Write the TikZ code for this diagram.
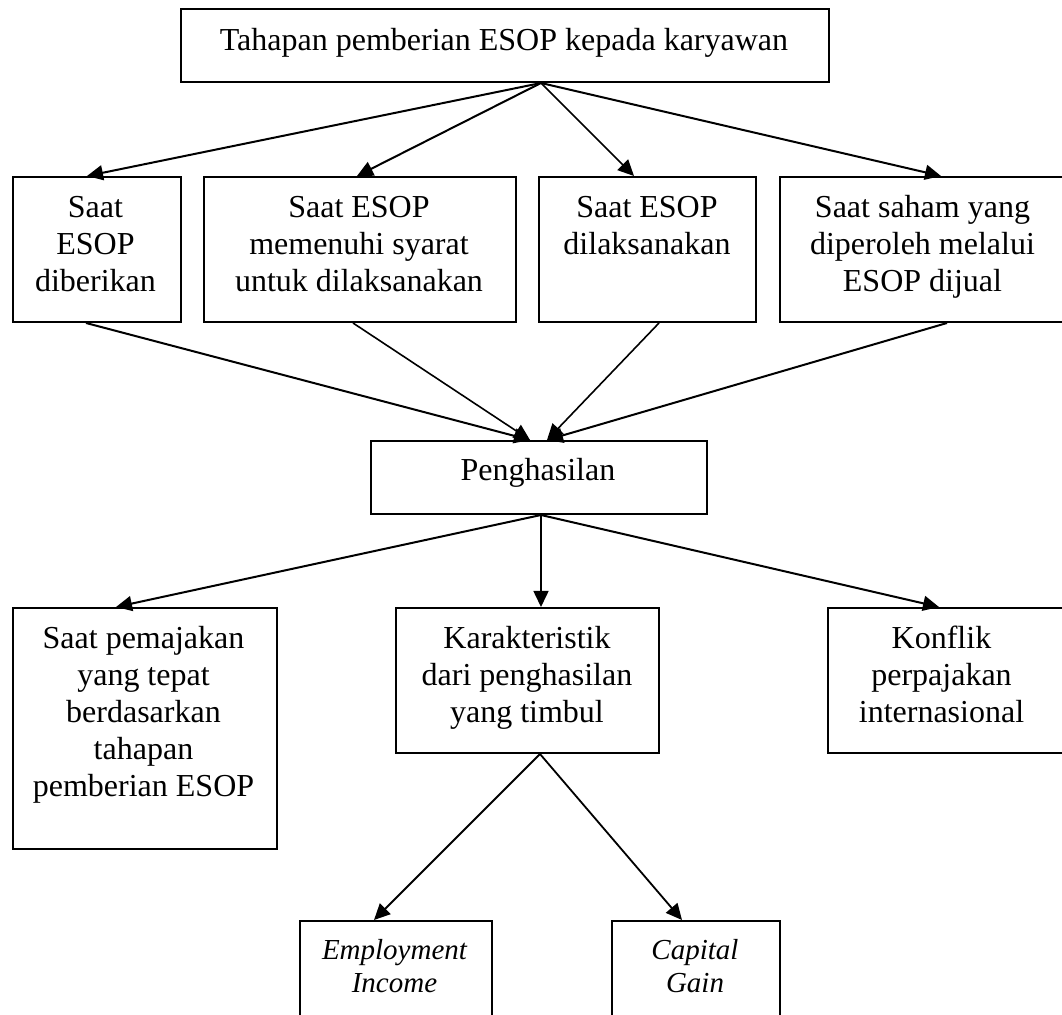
\documentclass[tikz,border=0pt]{standalone}
\usepackage{fontspec}
\setmainfont{Liberation Serif}
\usetikzlibrary{arrows.meta}
\tikzset{
  box/.style={draw, line width=1pt, inner sep=0pt, anchor=north west},
  txt/.style={anchor=north, inner sep=0pt, align=center, font=\fontsize{16pt}{18.5pt}\selectfont},
  itxt/.style={anchor=north, inner sep=0pt, align=center, font=\fontsize{14.5pt}{16.5pt}\selectfont\itshape},
  thick arrow/.style={line width=1pt, -{Triangle[length=8pt,width=7.5pt]}},
  thin arrow/.style={line width=0.8pt, -{Triangle[length=8pt,width=7.5pt]}}
}
\newcommand{\fl}{\rule{0pt}{14pt}}
\begin{document}
\begin{tikzpicture}[x=0.5pt,y=-0.5pt]
\clip (0,0) rectangle (1062,1015);
\fill[white] (0,0) rectangle (1062,1015);
% boxes
\node[box, minimum width=324pt, minimum height=36.5pt] (T) at (180,8) {};
\node[box, minimum width=84pt,  minimum height=72.5pt] (b1) at (11.5,176) {};
\node[box, minimum width=156pt, minimum height=72.5pt] (b2) at (203,176) {};
\node[box, minimum width=108.5pt, minimum height=72.5pt] (b3) at (538,176) {};
\node[box, minimum width=145pt, minimum height=72.5pt] (b4) at (779,176) {};
\node[box, minimum width=168pt, minimum height=36.5pt] (P) at (370,440) {};
\node[box, minimum width=132pt, minimum height=120.5pt] (L) at (11.5,607) {};
\node[box, minimum width=131.5pt, minimum height=72.5pt] (K) at (395,607) {};
\node[box, minimum width=125pt, minimum height=72.5pt] (F) at (827,607) {};
\node[box, minimum width=96pt, minimum height=60pt] (E) at (298.5,920) {};
\node[box, minimum width=84pt, minimum height=60pt] (C) at (611,920) {};
% texts
\node[txt] (Tt) at (504,22) {\fl Tahapan pemberian ESOP kepada karyawan};
\node[txt] (b1t) at (95.5,189) {\fl Saat\\ESOP\\diberikan};
\node[txt] (b2t) at (359,189) {\fl Saat ESOP\\memenuhi syarat\\untuk dilaksanakan};
\node[txt] (b3t) at (647,189) {\fl Saat ESOP\\dilaksanakan};
\node[txt] (b4t) at (922.5,189) {\fl Saat saham yang\\diperoleh melalui\\ESOP dijual};
\node[txt] (Pt) at (538,452) {\fl Penghasilan};
\node[txt] (Lt) at (143.5,620) {\fl Saat pemajakan\\yang tepat\\berdasarkan\\tahapan\\pemberian ESOP};
\node[txt] (Kt) at (527,620) {\fl Karakteristik\\dari penghasilan\\yang timbul};
\node[txt] (Ft) at (941.5,620) {\fl Konflik\\perpajakan\\internasional};
\node[itxt] (Et) at (394.5,931) {\fl Employment\\Income};
\node[itxt] (Ct) at (695,931) {\fl Capital\\Gain};
% connectors: top to row 2
\draw[thick arrow] ([xshift=18pt]T.south) -- ([xshift=-4.75pt]b1.north);
\draw[thick arrow] ([xshift=18pt]T.south) -- ([xshift=-1.5pt]b2.north);
\draw[thin arrow] ([xshift=18pt]T.south) -- ([xshift=-6.75pt]b3.north);
\draw[thick arrow] ([xshift=18pt]T.south) -- ([xshift=8pt]b4.north);
% row 2 to Penghasilan
\draw[thick arrow] ([xshift=-5.25pt]b1.south) -- ([xshift=-4.5pt]P.north);
\draw[thin arrow] ([xshift=-3.5pt]b2.south) -- ([xshift=-4.5pt]P.north);
\draw[thin arrow] ([xshift=5.75pt]b3.south) -- ([xshift=4pt]P.north);
\draw[thick arrow] ([xshift=11pt]b4.south) -- ([xshift=4pt]P.north);
% Penghasilan to row 3
\draw[thick arrow] ([xshift=1pt]P.south) -- ([xshift=-14.25pt]L.north);
\draw[thin arrow] ([xshift=1pt]P.south) -- ([xshift=6.75pt]K.north);
\draw[thick arrow] ([xshift=1pt]P.south) -- ([xshift=-7pt]F.north);
% Karakteristik to row 4
\draw[thin arrow, line width=0.9pt] ([xshift=6.25pt]K.south) -- ([xshift=-10.75pt]E.north);
\draw[thin arrow, line width=0.9pt] ([xshift=6.25pt]K.south) -- ([xshift=-7pt]C.north);
\end{tikzpicture}
\end{document}
